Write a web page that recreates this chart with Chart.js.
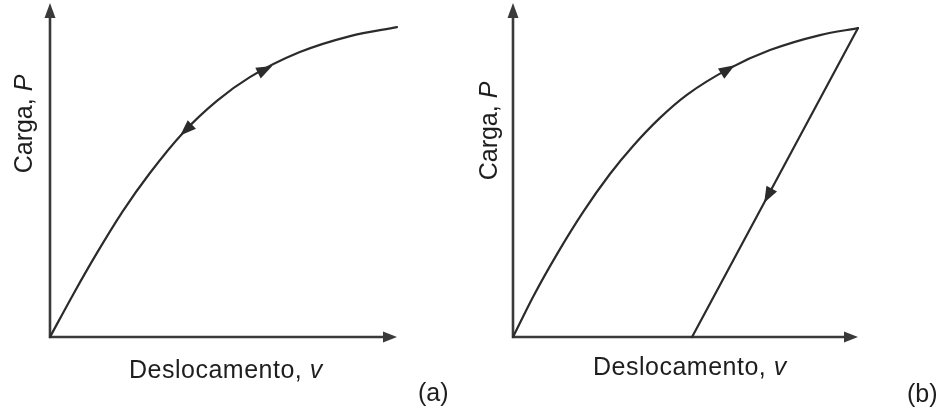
<!DOCTYPE html>
<html>
<head>
<meta charset="utf-8">
<script src="https://cdn.jsdelivr.net/npm/chart.js@4.4.1/dist/chart.umd.min.js"></script>
<style>
  html, body { margin: 0; padding: 0; background: #fff; }
  #wrap { position: relative; width: 944px; height: 412px; overflow: hidden; }
  .panel { position: absolute; top: 0; height: 412px; }
</style>
</head>
<body>
<div id="wrap">
  <div class="panel" style="left:0;width:470px"><canvas id="chartA" width="470" height="412"></canvas></div>
  <div class="panel" style="left:470px;width:474px"><canvas id="chartB" width="474" height="412"></canvas></div>
</div>
<script>
// (a) elastic behaviour: loading and unloading follow the same path
const elasticV = [0, 6.6, 13.5, 21.0, 28.8, 38.3, 48.1, 57.6, 72.0, 86.5, 100];
const elasticP = [0, 12.6, 25.1, 37.7, 49.1, 61.1, 70.7, 77.8, 85.3, 90.1, 92.8];

// (b) inelastic behaviour: loading path ...
const loadV = [0, 5.8, 12.8, 20.3, 28.1, 34.8, 42.6, 50.4, 62.9, 74.5, 89.0, 100];
const loadP = [0, 12.0, 24.9, 37.4, 48.8, 57.2, 65.6, 72.5, 80.5, 85.9, 90.4, 92.5];
// ... and straight unloading path leaving a permanent displacement
const unloadV = [100, 51.9];
const unloadP = [92.5, 0];

// arrowheads: displacement where each sits, dir +1 = along the path order
const arrowsA = [{ ds: 0, v: 62.0, dir: 1 }, { ds: 0, v: 39.2, dir: -1 }];
const arrowsB = [{ ds: 0, v: 62.3, dir: 1 }, { ds: 1, v: 73.9, dir: 1 }];

// text
const yTitle = ['Carga, ', 'P'];
const xTitle = ['Deslocamento, ', 'v'];
const tagA = '(a)';
const tagB = '(b)';

const INK = '#2b2b2b';
const AXIS = '#3a3a3a';
const FONT = '"Liberation Sans", Arial, Helvetica, sans-serif';
const FSIZE = 25;

function pts(xs, ys) { return xs.map((x, i) => ({ x: x, y: ys[i] })); }

function drawHead(ctx, x, y, ux, uy, len, half, tipAhead) {
  // (ux,uy) unit direction; tip placed tipAhead px ahead of (x,y)
  const tx = x + ux * tipAhead, ty = y + uy * tipAhead;
  const bx = tx - ux * len, by = ty - uy * len;
  const nx = -uy, ny = ux;
  ctx.beginPath();
  ctx.moveTo(tx, ty);
  ctx.lineTo(bx + nx * half, by + ny * half);
  ctx.lineTo(bx - nx * half, by - ny * half);
  ctx.closePath();
  ctx.fill();
}

// coordinate axes with arrowheads, drawn from the scales
const axesPlugin = {
  id: 'arrowAxes',
  beforeDatasetsDraw(chart) {
    const ctx = chart.ctx, xs = chart.scales.x, ys = chart.scales.y;
    const x0 = xs.getPixelForValue(0), y0 = ys.getPixelForValue(0);
    const x1 = xs.getPixelForValue(xs.max), y1 = ys.getPixelForValue(ys.max);
    ctx.save();
    ctx.strokeStyle = AXIS; ctx.fillStyle = AXIS; ctx.lineWidth = 2.6;
    ctx.beginPath();
    ctx.moveTo(x0, y1 + 10); ctx.lineTo(x0, y0); ctx.lineTo(x1 - 10, y0);
    ctx.stroke();
    drawHead(ctx, x1, y0, 1, 0, 14, 5.5, 0);
    drawHead(ctx, x0, y1, 0, -1, 15, 5.5, 0);
    ctx.restore();
  }
};

// direction arrowheads sitting on the load paths
const pathArrowPlugin = {
  id: 'pathArrows',
  afterDatasetsDraw(chart, args, opts) {
    const ctx = chart.ctx, xs = chart.scales.x;
    ctx.save();
    ctx.fillStyle = INK;
    (opts.marks || []).forEach(m => {
      const pts = chart.getDatasetMeta(m.ds).data;
      const px = xs.getPixelForValue(m.v);
      for (let i = 0; i < pts.length - 1; i++) {
        const a = pts[i], b = pts[i + 1];
        const lo = Math.min(a.x, b.x), hi = Math.max(a.x, b.x);
        if (px >= lo && px <= hi && hi > lo) {
          const t = (px - a.x) / (b.x - a.x);
          const y = a.y + t * (b.y - a.y);
          let dx = (b.x - a.x) * m.dir, dy = (b.y - a.y) * m.dir;
          const L = Math.hypot(dx, dy);
          drawHead(ctx, px, y, dx / L, dy / L, 16, 6, 8);
          break;
        }
      }
    });
    ctx.restore();
  }
};

function mixed(ctx, parts, x, y, align) {
  const fonts = [FSIZE + 'px ' + FONT, 'italic ' + FSIZE + 'px ' + FONT];
  const widths = parts.map((p, i) => { ctx.font = fonts[i]; return ctx.measureText(p).width; });
  const total = widths.reduce((s, w) => s + w, 0);
  let cx = align === 'center' ? x - total / 2 : x;
  parts.forEach((p, i) => {
    ctx.font = fonts[i];
    ctx.fillText(p, cx, y);
    cx += widths[i];
  });
}

// axis titles and panel tag placed around the chart area
const titlePlugin = {
  id: 'panelTitles',
  afterDraw(chart, args, o) {
    const ctx = chart.ctx, ca = chart.chartArea;
    ctx.save();
    ctx.fillStyle = '#1e1e1e';
    ctx.textAlign = 'left';
    ctx.textBaseline = 'alphabetic';
    // vertical title
    ctx.save();
    ctx.translate(ca.left + o.yDx, ca.top + o.yDy);
    ctx.rotate(-Math.PI / 2);
    mixed(ctx, yTitle, 0, 0, 'center');
    ctx.restore();
    // horizontal title
    ctx.save();
    if ('letterSpacing' in ctx) ctx.letterSpacing = '0.5px';
    mixed(ctx, xTitle, ca.left + o.xDx, ca.bottom + o.xDy, 'left');
    ctx.restore();
    // panel tag
    ctx.font = FSIZE + 'px ' + FONT;
    ctx.fillText(o.tag, ca.right + o.tDx, ca.bottom + o.tDy);
    ctx.restore();
  }
};

function lineSet(xs, ys, curved) {
  return {
    data: pts(xs, ys),
    showLine: true,
    borderColor: INK,
    borderWidth: 2.2,
    pointRadius: 0,
    borderCapStyle: 'round',
    borderJoinStyle: 'round',
    cubicInterpolationMode: curved ? 'monotone' : 'default',
    tension: 0,
    clip: false
  };
}

function makeChart(id, datasets, padding, marks, titles) {
  return new Chart(document.getElementById(id), {
    type: 'scatter',
    data: { datasets: datasets },
    options: {
      responsive: false,
      animation: false,
      events: [],
      layout: { padding: padding },
      scales: {
        x: { type: 'linear', min: 0, max: 100, display: false },
        y: { type: 'linear', min: 0, max: 100, display: false }
      },
      plugins: {
        legend: { display: false },
        tooltip: { enabled: false },
        pathArrows: { marks: marks },
        panelTitles: titles
      }
    },
    plugins: [axesPlugin, pathArrowPlugin, titlePlugin]
  });
}

makeChart('chartA',
  [lineSet(elasticV, elasticP, true)],
  { left: 50, top: 3, right: 73, bottom: 75 },
  arrowsA,
  { yDx: -18, yDy: 121, xDx: 79, xDy: 41, tag: tagA, tDx: 21, tDy: 64 });

makeChart('chartB',
  [lineSet(loadV, loadP, true), lineSet(unloadV, unloadP, false)],
  { left: 43, top: 3, right: 86, bottom: 75 },
  arrowsB,
  { yDx: -16, yDy: 128, xDx: 80, xDy: 38, tag: tagB, tDx: 49, tDy: 65 });
</script>
</body>
</html>
